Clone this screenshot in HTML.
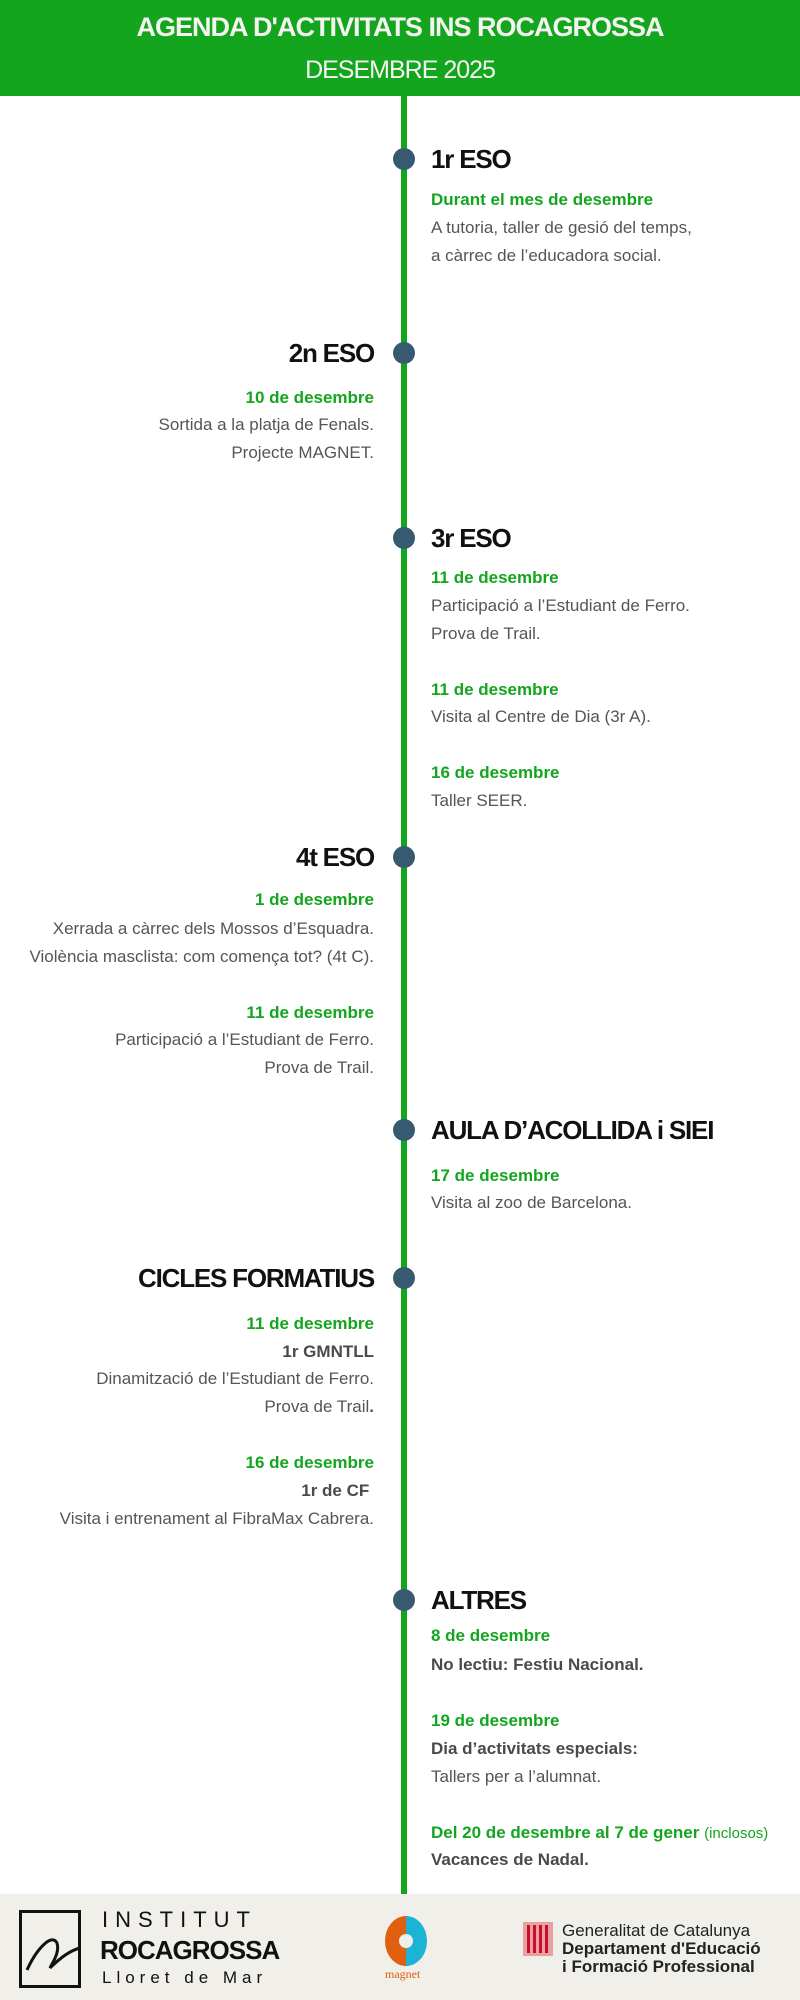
<!DOCTYPE html>
<html style="overflow:hidden;height:2000px"><head><meta charset="utf-8"><style>
body{margin:0;width:800px;height:2000px;position:relative;background:#fff;font-family:"Liberation Sans",sans-serif;overflow:hidden}
.hd{position:absolute;left:0;top:0;width:800px;height:96px;background:#13a51e;color:#f4f4f0;text-align:center}
.t{position:absolute;line-height:28px;white-space:nowrap;font-size:17px;color:#555}
.L{left:431px}
.R{right:426px;text-align:right}
.g{color:#13a51e;font-weight:bold}
.b{font-weight:bold;color:#4a4a4a}
.h{font-size:26px;font-weight:bold;color:#111;letter-spacing:-1.2px;line-height:34px}
.dot{position:absolute;left:393px;width:22px;height:22px;border-radius:50%;background:#385a70}
</style></head><body>
<div class="hd">
<div style="position:absolute;top:12px;width:800px;font-size:27px;font-weight:bold;letter-spacing:-1px">AGENDA D'ACTIVITATS INS ROCAGROSSA</div>
<div style="position:absolute;top:56px;width:800px;font-size:25px;letter-spacing:-1px">DESEMBRE 2025</div>
</div>
<div style="position:absolute;left:401px;top:96px;width:6px;height:1798px;background:#13a51e"></div>

<div class="dot" style="top:148px"></div>
<div class="t L h" style="top:142px">1r ESO</div>
<div class="t L g" style="top:186px">Durant el mes de desembre</div>
<div class="t L" style="top:214px">A tutoria, taller de gesió del temps,</div>
<div class="t L" style="top:242px">a càrrec de l’educadora social.</div>

<div class="dot" style="top:342px"></div>
<div class="t R h" style="top:336px">2n ESO</div>
<div class="t R g" style="top:384px">10 de desembre</div>
<div class="t R" style="top:411px">Sortida a la platja de Fenals.</div>
<div class="t R" style="top:439px">Projecte MAGNET.</div>

<div class="dot" style="top:527px"></div>
<div class="t L h" style="top:521px">3r ESO</div>
<div class="t L g" style="top:564px">11 de desembre</div>
<div class="t L" style="top:592px">Participació a l’Estudiant de Ferro.</div>
<div class="t L" style="top:620px">Prova de Trail.</div>
<div class="t L g" style="top:676px">11 de desembre</div>
<div class="t L" style="top:703px">Visita al Centre de Dia (3r A).</div>
<div class="t L g" style="top:759px">16 de desembre</div>
<div class="t L" style="top:787px">Taller SEER.</div>

<div class="dot" style="top:846px"></div>
<div class="t R h" style="top:840px">4t ESO</div>
<div class="t R g" style="top:886px">1 de desembre</div>
<div class="t R" style="top:915px">Xerrada a càrrec dels Mossos d’Esquadra.</div>
<div class="t R" style="top:943px">Violència masclista: com comença tot? (4t C).</div>
<div class="t R g" style="top:999px">11 de desembre</div>
<div class="t R" style="top:1026px">Participació a l’Estudiant de Ferro.</div>
<div class="t R" style="top:1054px">Prova de Trail.</div>

<div class="dot" style="top:1119px"></div>
<div class="t L h" style="top:1113px">AULA D’ACOLLIDA i SIEI</div>
<div class="t L g" style="top:1162px">17 de desembre</div>
<div class="t L" style="top:1189px">Visita al zoo de Barcelona.</div>

<div class="dot" style="top:1267px"></div>
<div class="t R h" style="top:1261px">CICLES FORMATIUS</div>
<div class="t R g" style="top:1310px">11 de desembre</div>
<div class="t R b" style="top:1338px">1r GMNTLL</div>
<div class="t R" style="top:1365px">Dinamització de l’Estudiant de Ferro.</div>
<div class="t R" style="top:1393px">Prova de Trail<b>.</b></div>
<div class="t R g" style="top:1449px">16 de desembre</div>
<div class="t R b" style="top:1477px">1r de CF&nbsp;</div>
<div class="t R" style="top:1505px">Visita i entrenament al FibraMax Cabrera.</div>

<div class="dot" style="top:1589px"></div>
<div class="t L h" style="top:1583px">ALTRES</div>
<div class="t L g" style="top:1622px">8 de desembre</div>
<div class="t L b" style="top:1651px">No lectiu: Festiu Nacional.</div>
<div class="t L g" style="top:1707px">19 de desembre</div>
<div class="t L b" style="top:1735px">Dia d’activitats especials:</div>
<div class="t L" style="top:1763px">Tallers per a l’alumnat.</div>
<div class="t L" style="top:1819px"><span class="g">Del 20 de desembre al 7 de gener</span> <span style="color:#13a51e;font-size:15px">(inclosos)</span></div>
<div class="t L b" style="top:1846px">Vacances de Nadal.</div>

<div style="position:absolute;left:0;top:1894px;width:800px;height:106px;background:#f0efea"></div>
<div style="position:absolute;left:19px;top:1910px;width:56px;height:72px;border:3px solid #111"></div>
<svg style="position:absolute;left:22px;top:1918px" width="60" height="60"><path d="M5 52 C15 30 30 15 35 25 C38 35 30 45 28 50 C40 38 50 32 58 30" stroke="#111" stroke-width="3" fill="none"/></svg>
<div style="position:absolute;left:102px;top:1907px;font-size:22px;letter-spacing:7px;color:#111;line-height:26px">INSTITUT</div>
<div style="position:absolute;left:100px;top:1935px;font-size:26px;font-weight:bold;letter-spacing:-1px;color:#111;line-height:30px">ROCAGROSSA</div>
<div style="position:absolute;left:102px;top:1968px;font-size:17px;letter-spacing:5px;color:#111;line-height:20px">Lloret de Mar</div>
<svg style="position:absolute;left:384px;top:1916px" width="44" height="50"><path d="M22 0 A21 25 0 0 0 22 50 Z" fill="#e06010"/><path d="M22 0 A21 25 0 0 1 22 50 Z" fill="#1bb4d4"/><circle cx="22" cy="25" r="7" fill="#f0efea"/></svg>
<div style="position:absolute;left:385px;top:1967px;font-size:12px;color:#e06010;font-family:'Liberation Serif',serif;line-height:14px">magnet</div>
<svg style="position:absolute;left:523px;top:1922px" width="30" height="34"><rect width="30" height="34" fill="#e8a0a0"/><g fill="#c8102e"><rect x="4" y="3" width="3" height="28"/><rect x="10" y="3" width="3" height="28"/><rect x="16" y="3" width="3" height="28"/><rect x="22" y="3" width="3" height="28"/></g></svg>
<div style="position:absolute;left:562px;top:1922px;font-size:17px;color:#222;line-height:18px">Generalitat de Catalunya<br><b>Departament d'Educació<br>i Formació Professional</b></div>
</body></html>
